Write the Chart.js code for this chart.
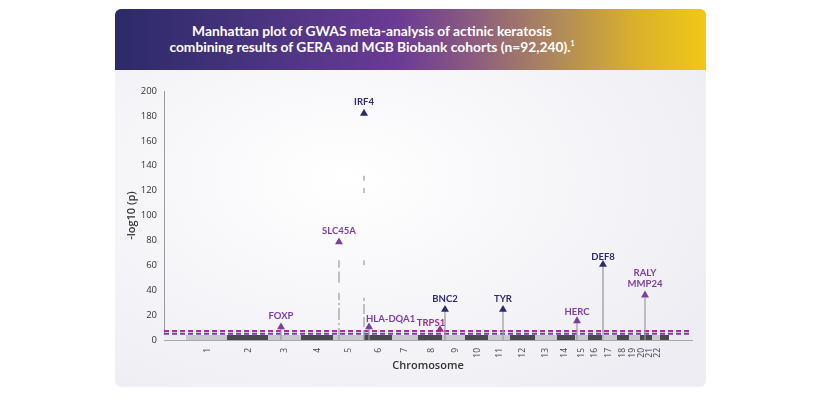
<!DOCTYPE html>
<html>
<head>
<meta charset="utf-8">
<script src="https://cdn.jsdelivr.net/npm/chart.js@4.4.0/dist/chart.umd.min.js"></script>
<style>
  html, body { margin: 0; padding: 0; background: #fff; width: 821px; height: 397px; overflow: hidden; }
  .card {
    position: absolute; left: 115px; top: 9px; width: 591px; height: 378px;
    border-radius: 6px; overflow: hidden;
    background: radial-gradient(ellipse 420px 260px at 230px 170px, #ffffff 0%, #f7f7fa 45%, #eeedf3 100%);
  }
  .head {
    position: absolute; left: 0; top: 0; width: 591px; height: 61px;
    background: linear-gradient(90deg, #2c2a68 0%, #4a3480 25%, #6b3b95 48%, #8a5a80 60%, #b08a5a 75%, #d9b02c 88%, #f0c818 100%);
  }
  .head div {
    position: absolute; left: 0; top: 14px; width: 514px; text-align: center;
    color: #fff; font-family: Lato, "Open Sans", sans-serif; font-weight: 700; font-size: 13.8px; line-height: 16px;
  }
  .head sup { font-size: 7px; vertical-align: 6px; line-height: 0; }
  .plot { position: absolute; left: 0; top: 61px; width: 591px; height: 317px; }
</style>
</head>
<body>
<div class="card">
  <div class="head"><div>Manhattan plot of GWAS meta-analysis of actinic keratosis<br>combining results of GERA and MGB Biobank cohorts (n=92,240).<sup>1</sup></div></div>
  <div class="plot"><canvas id="chart" width="591" height="317"></canvas></div>
</div>
<script>
// chromosome layout (arbitrary genome units)
const chromosomes = ['1','2','3','4','5','6','7','8','9','10','11','12','13','14','15','16','17','18','19','20','21','22'];
const chromLengths = [41, 41, 33, 32, 31, 28, 26, 24, 23, 23, 22, 25, 22, 18, 13, 15, 14, 12, 11, 12, 8, 9];
const chromTickPos = [22, 63, 99, 132, 163, 193, 219, 246, 270, 292, 314, 337, 360, 379, 396, 409, 423, 437, 447, 456, 464, 472];
const genomeMin = -22;
const genomeMax = 506;

// lead signals
const peakGenes = ['FOXP', 'SLC45A', 'IRF4', 'HLA-DQA1', 'TRPS1', 'BNC2', 'TYR', 'HERC', 'DEF8', 'RALY\nMMP24'];
const peakPos = [95, 153, 178, 183, 254, 259, 317, 391, 417, 459];
const peakLogP = [10.4, 78.7, 182, 10.4, 8.4, 24.5, 24.5, 15.3, 60.6, 36];

// SNP columns under each signal, [from, to] in -log10(p)
const columnSegments = [
  [[0, 9]],
  [[0, 38], [46, 55], [58, 64]],
  [[0, 34], [60, 64], [118, 122], [128, 132]],
  [[0, 9]],
  [],
  [[0, 24]],
  [[0, 24]],
  [[0, 14]],
  [[0, 60]],
  [[0, 34]]
];

const thresholds = [7.3, 5];
const yTicks = { min: 0, max: 200, step: 20 };

const NAVY = '#2e2a6e', PURPLE = '#7b3fa0', MAGENTA = '#a3288a';
const geneColor = { 'IRF4': NAVY, 'BNC2': NAVY, 'TYR': NAVY, 'DEF8': NAVY, 'TRPS1': MAGENTA };
const labelPlace = {
  'HLA-DQA1': { dx: -3, dy: -8, align: 'left' },
  'TRPS1': { dx: -9, dy: -7 },
  'HERC': { dy: -9 },
  'DEF8': { dy: -8 },
  'RALY\nMMP24': { dy: -11 }
};
const dashedColumns = { 'SLC45A': [12, 3, 2, 3], 'IRF4': [10, 3] };

const datasets = [];

// chromosome band along the axis
const bandTop = 4;
const band = (x0, x1, color) => ({
  data: [{ x: x0, y: bandTop }, { x: x1, y: bandTop }],
  showLine: true, fill: 'origin', backgroundColor: color,
  borderWidth: 0, borderColor: 'rgba(0,0,0,0)', pointRadius: 0, order: 4
});
let start = 0;
datasets.push(band(genomeMin, 0, '#ececf0'));
chromLengths.forEach((len, i) => {
  datasets.push(band(start, start + len, i % 2 ? '#4b4b4d' : '#c9c9cb'));
  start += len;
});
datasets.push(band(start, genomeMax, '#ececf0'));

// significance lines
thresholds.forEach((t, i) => {
  datasets.push({
    data: [{ x: genomeMin, y: t }, { x: genomeMax, y: t }],
    showLine: true,
    borderColor: i === 0 ? '#a53391' : '#7a3ea2', borderWidth: 2, borderDash: [5, 3],
    pointRadius: 0, fill: false, order: 3
  });
});

// SNP columns
columnSegments.forEach((segs, i) => {
  const gene = peakGenes[i];
  segs.forEach(([a, b]) => {
    datasets.push({
      data: [{ x: peakPos[i], y: a }, { x: peakPos[i], y: b }],
      showLine: true,
      borderColor: gene === 'DEF8' ? '#b9b9bc' : '#9a9a9e',
      borderWidth: gene === 'DEF8' ? 2 : 1.2,
      borderDash: dashedColumns[gene] || [],
      pointRadius: 0, fill: false, order: 2
    });
  });
});

// lead SNP triangles
const peakIndex = datasets.length;
datasets.push({
  data: peakPos.map((x, i) => ({ x, y: peakLogP[i] })),
  showLine: false,
  pointStyle: 'triangle',
  pointRadius: 4.6,
  pointBackgroundColor: peakGenes.map(g => geneColor[g] || PURPLE),
  pointBorderColor: peakGenes.map(g => geneColor[g] || PURPLE),
  pointBorderWidth: 0,
  order: 0
});

const peakLabels = {
  id: 'peakLabels',
  afterDatasetsDraw(chart) {
    const ctx = chart.ctx;
    const meta = chart.getDatasetMeta(peakIndex);
    ctx.save();
    ctx.font = '700 9.5px Lato, "Open Sans", sans-serif';
    ctx.textBaseline = 'middle';
    meta.data.forEach((pt, i) => {
      const gene = peakGenes[i];
      const place = labelPlace[gene] || {};
      const lines = gene.split('\n');
      ctx.fillStyle = geneColor[gene] || PURPLE;
      ctx.textAlign = place.align || 'center';
      const dy = place.dy !== undefined ? place.dy : -11;
      lines.forEach((line, k) => {
        const y = pt.y + dy - (lines.length - 1 - k) * 11;
        ctx.fillText(line, pt.x + (place.dx || 0), y);
      });
    });
    ctx.restore();
  }
};

// vertical chromosome numbers under the axis
const chromLabels = {
  id: 'chromLabels',
  afterDraw(chart) {
    const ctx = chart.ctx;
    const xs = chart.scales.x;
    ctx.save();
    ctx.font = '8.5px "Open Sans", sans-serif';
    ctx.fillStyle = '#444';
    ctx.textAlign = 'right';
    ctx.textBaseline = 'middle';
    chromTickPos.forEach((v, i) => {
      ctx.save();
      ctx.translate(xs.getPixelForValue(v), xs.top + 8);
      ctx.rotate(-Math.PI / 2);
      ctx.fillText(chromosomes[i], 0, 0);
      ctx.restore();
    });
    ctx.restore();
  }
};

new Chart(document.getElementById('chart'), {
  type: 'scatter',
  data: { datasets },
  plugins: [peakLabels, chromLabels],
  options: {
    responsive: false,
    animation: false,
    layout: { padding: { top: 21, right: 14, left: 0, bottom: 0 } },
    plugins: { legend: { display: false }, tooltip: { enabled: false } },
    elements: { line: { tension: 0 } },
    scales: {
      x: {
        type: 'linear',
        min: genomeMin,
        max: genomeMax,
        grid: { display: false, drawTicks: false },
        border: { display: true, color: '#a8a8ac', width: 1 },
        afterBuildTicks: scale => { scale.ticks = chromTickPos.map(v => ({ value: v })); },
        afterFit: scale => { scale.height = 47; },
        ticks: { display: false },
        title: {
          display: true, text: 'Chromosome', color: '#333',
          font: { family: '"Open Sans", sans-serif', size: 11, weight: '600' },
          padding: { top: 0, bottom: 15 }
        }
      },
      y: {
        min: yTicks.min,
        max: yTicks.max,
        grid: { display: false, drawTicks: false },
        border: { display: true, color: '#9a9a9e', width: 1 },
        afterFit: scale => { scale.width = 49; },
        ticks: {
          stepSize: yTicks.step, padding: 7, color: '#333',
          font: { family: '"Open Sans", sans-serif', size: 9.5 }
        },
        title: {
          display: true, text: '-log10 (p)', color: '#333',
          font: { family: '"Open Sans", sans-serif', size: 11, weight: '600' },
          padding: { top: 10, bottom: 0 }
        }
      }
    }
  }
});
</script>
</body>
</html>
